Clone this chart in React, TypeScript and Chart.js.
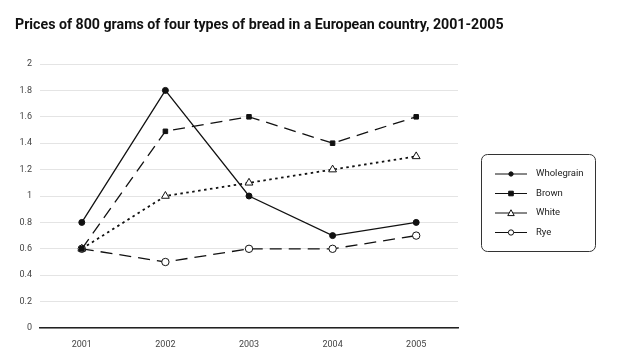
import React, { useEffect, useRef } from "react";
import { Chart, registerables } from "chart.js";

Chart.register(...registerables);

const years = ["2001", "2002", "2003", "2004", "2005"];
const wholegrain = [0.8, 1.8, 1.0, 0.7, 0.8];
const brown = [0.6, 1.49, 1.6, 1.4, 1.6];
const white = [0.6, 1.0, 1.1, 1.2, 1.3];
const rye = [0.6, 0.5, 0.6, 0.6, 0.7];
const seriesNames = ["Wholegrain", "Brown", "White", "Rye"];
const titleText = "Prices of 800 grams of four types of bread in a European country, 2001-2005";

const FONT = "Roboto, 'Open Sans', sans-serif";

const legendPlugin = {
  id: "boxLegend",
  afterDraw(chart: any) {
    const ctx = chart.ctx;
    ctx.save();
    const x0 = 481.5, y0 = 154.5, w = 114, h = 97, r = 6;
    ctx.beginPath();
    ctx.moveTo(x0 + r, y0);
    ctx.arcTo(x0 + w, y0, x0 + w, y0 + h, r);
    ctx.arcTo(x0 + w, y0 + h, x0, y0 + h, r);
    ctx.arcTo(x0, y0 + h, x0, y0, r);
    ctx.arcTo(x0, y0, x0 + w, y0, r);
    ctx.closePath();
    ctx.strokeStyle = "#333";
    ctx.lineWidth = 1;
    ctx.stroke();
    chart.data.datasets.forEach((ds: any, i: number) => {
      const y = 174 + i * 19.5;
      ctx.beginPath();
      ctx.setLineDash([]);
      ctx.strokeStyle = "#111";
      ctx.lineWidth = 1;
      ctx.moveTo(495, y);
      ctx.lineTo(527, y);
      ctx.stroke();
      const mx = 511;
      ctx.fillStyle = ds.pointBackgroundColor;
      ctx.strokeStyle = "#111";
      ctx.lineWidth = 1;
      ctx.beginPath();
      const s = ds.pointRadius * 0.72;
      if (ds.pointStyle === "circle") {
        ctx.arc(mx, y, s, 0, Math.PI * 2);
      } else if (ds.pointStyle === "rect") {
        ctx.rect(mx - s, y - s, 2 * s, 2 * s);
      } else {
        ctx.moveTo(mx, y - s);
        ctx.lineTo(mx + s, y + s * 0.8);
        ctx.lineTo(mx - s, y + s * 0.8);
        ctx.closePath();
      }
      ctx.fill();
      ctx.stroke();
      ctx.fillStyle = "#222";
      ctx.font = "9.5px " + FONT;
      ctx.textBaseline = "middle";
      ctx.textAlign = "left";
      ctx.fillText(ds.label, 536, y);
    });
    ctx.restore();
  },
};

export default function App() {
  const ref = useRef<HTMLCanvasElement>(null);
  useEffect(() => {
    document.body.style.margin = "0";
    const common = {
      borderColor: "#111",
      borderWidth: 1.3,
      pointBorderColor: "#111",
      pointBorderWidth: 1,
      tension: 0,
      fill: false,
    };
    const chart = new Chart(ref.current!, {
      type: "line",
      data: {
        labels: years,
        datasets: [
          { ...common, label: seriesNames[0], data: wholegrain, pointStyle: "circle", pointRadius: 3, pointBackgroundColor: "#111" },
          { ...common, label: seriesNames[1], data: brown, pointStyle: "rect", pointRadius: 3.2, pointBackgroundColor: "#111", borderDash: [12, 7] },
          { ...common, label: seriesNames[2], data: white, pointStyle: "triangle", pointRadius: 4.5, pointBackgroundColor: "#fff", borderDash: [2.5, 3.5], borderWidth: 1.8 },
          { ...common, label: seriesNames[3], data: rye, pointStyle: "circle", pointRadius: 3.7, pointBackgroundColor: "#fff", borderDash: [12, 7] },
        ],
      } as any,
      options: {
        animation: false,
        responsive: false,
        layout: { padding: { left: 0, right: 160, top: 64, bottom: 0 } },
        plugins: {
          legend: { display: false },
          tooltip: { enabled: false },
          title: { display: false },
        },
        scales: {
          x: {
            offset: true,
            grid: { display: false, drawTicks: false },
            border: { color: "#222", width: 1.5 },
            ticks: { color: "#444", font: { size: 9, family: FONT }, padding: 11 },
            afterFit: (s: any) => { s.height = 35; },
          },
          y: {
            min: 0,
            max: 2,
            ticks: {
              stepSize: 0.2,
              color: "#444",
              font: { size: 9, family: FONT },
              padding: 8,
              callback: (v: any) => String(Math.round(Number(v) * 10) / 10),
            },
            grid: { color: "#e4e4e4", drawTicks: false, lineWidth: 1 },
            border: { display: false },
            afterFit: (s: any) => { s.width = 40; },
          },
        },
      },
      plugins: [
        legendPlugin,
        {
          id: "titleText",
          afterDraw(chart: any) {
            const ctx = chart.ctx;
            ctx.save();
            ctx.fillStyle = "#111";
            ctx.font = "bold 14.2px " + FONT;
            ctx.textBaseline = "middle";
            ctx.textAlign = "left";
            ctx.fillText(titleText, 15, 25);
            ctx.restore();
          },
        },
      ],
    });
    return () => chart.destroy();
  }, []);
  return (
    <div style={{ position: "absolute", left: 0, top: 0, width: 618, height: 363, background: "#fff" }}>
      <canvas ref={ref} width={618} height={363} style={{ width: 618, height: 363 }} />
    </div>
  );
}
